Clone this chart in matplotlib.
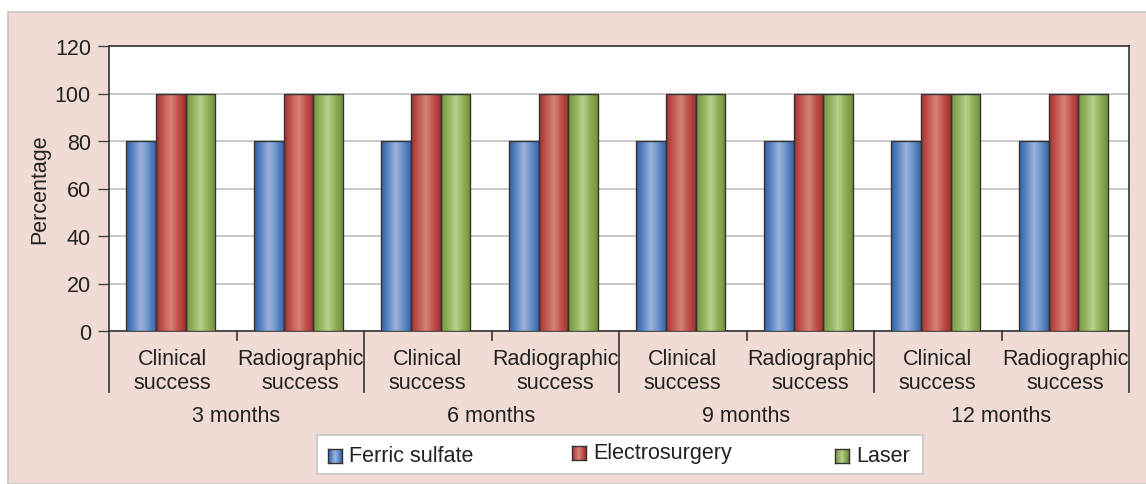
import numpy as np
import matplotlib
matplotlib.use("Agg")
import matplotlib.pyplot as plt
from matplotlib.patches import Rectangle
from matplotlib.colors import LinearSegmentedColormap
import matplotlib.transforms as mtransforms

plt.rcParams['font.family'] = ['Liberation Sans', 'DejaVu Sans']

# ---- data ----
categories = ["Clinical\nsuccess", "Radiographic\nsuccess"] * 4
periods = ["3 months", "6 months", "9 months", "12 months"]
series_names = ["Ferric sulfate", "Electrosurgery", "Laser"]
ferric = [80, 80, 80, 80, 80, 80, 80, 80]
electro = [100, 100, 100, 100, 100, 100, 100, 100]
laser = [100, 100, 100, 100, 100, 100, 100, 100]
series_values = [ferric, electro, laser]
yticks = [0, 20, 40, 60, 80, 100, 120]

# ---- style ----
grad = {
    "Ferric sulfate": ["#2f62a6", "#5f88c4", "#9cb4de", "#6a90c9", "#3564a8"],
    "Electrosurgery": ["#a8302f", "#c45a55", "#d48478", "#c0504c", "#a52e2d"],
    "Laser": ["#76983f", "#93b35e", "#b9d08f", "#8fae58", "#6f913a"],
}
FS = 15.5
TXT = "#222222"
pink = "#f0dcd4"
W, H = 1146, 485
fig = plt.figure(figsize=(W / 100, H / 100), dpi=100)
fig.patch.set_facecolor("white")

# panel background
panel = Rectangle((8 / W, 0), 1, (H - 13) / H, transform=fig.transFigure,
                  facecolor=pink, edgecolor="#c4c4c4", linewidth=1.2, zorder=0)
fig.patches.append(panel)

ax = fig.add_axes([109 / W, (H - 332) / H, (1129 - 109) / W, (332 - 47) / H])
ax.set_facecolor("white")
ax.set_zorder(2)

n = len(categories)
x = np.arange(n)
bw = 0.232
offsets = [-bw, 0, bw]
for name, vals, off in zip(series_names, series_values, offsets):
    cmap = LinearSegmentedColormap.from_list(name, grad[name])
    gimg = np.linspace(0, 1, 64).reshape(1, -1)
    bars = ax.bar(x + off - 0.015, vals, width=bw, facecolor="none",
                  edgecolor="#333333", linewidth=1.0, zorder=4)
    for b in bars:
        x0, y0 = b.get_x(), b.get_y()
        w, h = b.get_width(), b.get_height()
        im = ax.imshow(gimg, cmap=cmap, aspect="auto",
                       extent=[x0, x0 + w, y0, y0 + h], zorder=3,
                       interpolation="bilinear")
        im.set_clip_path(b)

ax.set_xlim(-0.5, n - 0.5)
ax.set_ylim(0, 120)
ax.set_yticks(yticks)
ax.set_yticklabels([str(v) for v in yticks], fontsize=FS, color=TXT)
ax.yaxis.grid(True, color="#c0c0c0", linewidth=1.2, zorder=1)
ax.set_axisbelow(True)
ax.tick_params(axis="y", length=8, width=1, color="#444444", pad=5)
ax.set_xticks(x)
ax.set_xticklabels(categories, fontsize=FS, color=TXT, linespacing=1.2)
ax.tick_params(axis="x", length=0, pad=12)
for s in ax.spines.values():
    s.set_color("#333333")
    s.set_linewidth(1.2)
ax.set_ylabel("Percentage", fontsize=FS, color=TXT, labelpad=3)

# group separators
trans = mtransforms.blended_transform_factory(ax.transData, ax.transAxes)
axh = (332 - 47)
for b in np.arange(-0.5, n, 2):
    ax.plot([b, b], [0, -(393 - 332) / axh], transform=trans, color="#333333",
            lw=1.2, clip_on=False, zorder=5)
for b in np.arange(0.5, n, 2):
    ax.plot([b, b], [0, -(341 - 332) / axh], transform=trans, color="#333333",
            lw=1.2, clip_on=False, zorder=5)
for i, p in enumerate(periods):
    ax.text(2 * i + 0.5, -(417 - 332) / axh, p, transform=trans, ha="center",
            va="center", fontsize=FS, color=TXT)

# legend
lbox = Rectangle((317 / W, (H - 475) / H), (923 - 317) / W, (475 - 436) / H,
                 transform=fig.transFigure, facecolor="white",
                 edgecolor="#c4c4c4", linewidth=1.2, zorder=1)
fig.patches.append(lbox)
leg_x = [328, 572, 835]
leg_y = [457, 454, 457]
for name, lx, ly in zip(series_names, leg_x, leg_y):
    cmap = LinearSegmentedColormap.from_list(name, grad[name])
    lax = fig.add_axes([lx / W, (H - ly - 7) / H, 14 / W, 14 / H])
    lax.set_zorder(5)
    lax.imshow(np.linspace(0, 1, 32).reshape(1, -1), cmap=cmap, aspect="auto",
               interpolation="bilinear")
    lax.set_xticks([])
    lax.set_yticks([])
    for s in lax.spines.values():
        s.set_color("#333333")
        s.set_linewidth(1.0)
    fig.text((lx + 21) / W, (H - ly) / H, name, fontsize=FS,
             color=TXT, ha="left", va="center", zorder=5)

fig.savefig("out.png", dpi=100, facecolor=fig.get_facecolor())
